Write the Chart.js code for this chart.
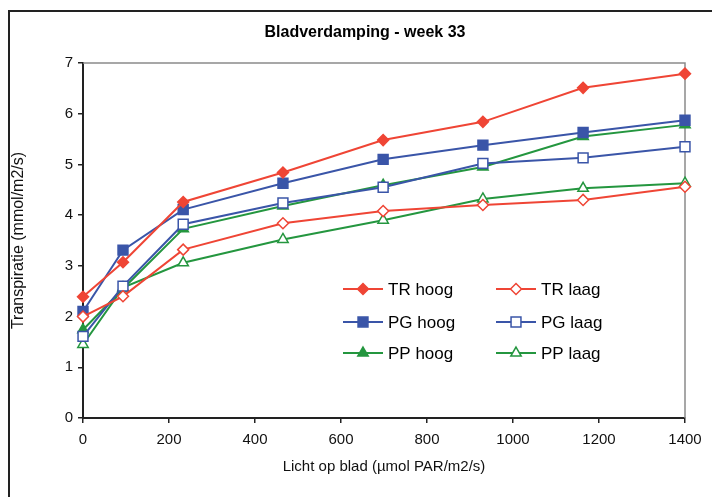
<!DOCTYPE html>
<html>
<head>
<meta charset="utf-8">
<script src="https://cdn.jsdelivr.net/npm/chart.js@4"></script>
<style>
  html, body { margin: 0; padding: 0; background: #fff; }
  #wrap { width: 712px; height: 497px; }
</style>
</head>
<body>
<div id="wrap"><canvas id="transpChart" width="712" height="497"></canvas></div>
<script>
const chartTitle = "Bladverdamping - week 33";
const lightLevels = [0, 93, 233, 465, 698, 930, 1163, 1400];
const trHoog = [2.39, 3.07, 4.26, 4.84, 5.48, 5.84, 6.51, 6.79];
const trLaag = [2.00, 2.40, 3.32, 3.84, 4.08, 4.20, 4.30, 4.56];
const pgHoog = [2.10, 3.31, 4.11, 4.63, 5.10, 5.38, 5.63, 5.87];
const pgLaag = [1.61, 2.60, 3.82, 4.24, 4.55, 5.02, 5.13, 5.35];
const ppHoog = [1.74, 2.55, 3.73, 4.18, 4.59, 4.95, 5.55, 5.78];
const ppLaag = [1.45, 2.57, 3.06, 3.52, 3.90, 4.32, 4.53, 4.63];

const RED = "#ef4535";
const BLUE = "#3a55a8";
const GREEN = "#24963f";
const FONT = "'Liberation Sans', Arial, sans-serif";

function toPoints(values) {
    return values.map((v, i) => ({ x: lightLevels[i], y: v }));
}

function series(label, values, color, style, filled, radius) {
    return {
        label: label,
        data: toPoints(values),
        borderColor: color,
        backgroundColor: color,
        borderWidth: 2,
        pointStyle: style,
        pointRadius: radius,
        pointBorderColor: color,
        pointBackgroundColor: filled ? color : "#ffffff",
        pointBorderWidth: 1.5,
        tension: 0,
        clip: false,
    };
}

const datasets = [
    series("TR hoog", trHoog, RED, "rectRot", true, 5.5),
    series("TR laag", trLaag, RED, "rectRot", false, 5.5),
    series("PG hoog", pgHoog, BLUE, "rect", true, 7),
    series("PG laag", pgLaag, BLUE, "rect", false, 7),
    series("PP hoog", ppHoog, GREEN, "triangle", true, 6),
    series("PP laag", ppLaag, GREEN, "triangle", false, 6),
];

// frame, gray top/right border of the plot, title text
const framePlugin = {
    id: "frame",
    beforeDraw(chart) {
        const ctx = chart.ctx;
        ctx.save();
        ctx.fillStyle = "#fff";
        ctx.fillRect(0, 0, chart.width, chart.height);
        ctx.strokeStyle = "#222";
        ctx.lineWidth = 2;
        ctx.beginPath();
        ctx.moveTo(9, chart.height);
        ctx.lineTo(9, 11);
        ctx.lineTo(chart.width, 11);
        ctx.stroke();
        ctx.fillStyle = "#000";
        ctx.font = "bold 16px " + FONT;
        ctx.textAlign = "center";
        ctx.textBaseline = "middle";
        ctx.fillText(chartTitle, 365, 33);
        ctx.restore();
    },
    beforeDatasetsDraw(chart) {
        const { ctx, chartArea } = chart;
        ctx.save();
        ctx.strokeStyle = "#8a8a8a";
        ctx.lineWidth = 1.5;
        ctx.beginPath();
        ctx.moveTo(chartArea.left, chartArea.top);
        ctx.lineTo(chartArea.right, chartArea.top);
        ctx.lineTo(chartArea.right, chartArea.bottom);
        ctx.stroke();
        ctx.restore();
    },
};

// legend drawn inside the plot, two columns
const legendPlugin = {
    id: "insideLegend",
    afterDatasetsDraw(chart) {
        const ctx = chart.ctx;
        const cols = [343, 496];
        const rows = [289, 322, 353];
        ctx.save();
        chart.data.datasets.forEach((ds, i) => {
            const x = cols[i % 2];
            const y = rows[Math.floor(i / 2)];
            ctx.strokeStyle = ds.borderColor;
            ctx.lineWidth = 2;
            ctx.beginPath();
            ctx.moveTo(x, y);
            ctx.lineTo(x + 40, y);
            ctx.stroke();
            ctx.fillStyle = ds.pointBackgroundColor;
            ctx.strokeStyle = ds.pointBorderColor;
            ctx.lineWidth = ds.pointBorderWidth;
            Chart.helpers.drawPoint(ctx, {
                pointStyle: ds.pointStyle,
                radius: ds.pointRadius,
                rotation: 0,
                borderWidth: ds.pointBorderWidth,
            }, x + 20, y);
            ctx.fillStyle = "#000";
            ctx.font = "17px " + FONT;
            ctx.textAlign = "left";
            ctx.textBaseline = "middle";
            ctx.fillText(ds.label, x + 45, y + 1);
        });
        ctx.restore();
    },
};

const ctx = document.getElementById("transpChart").getContext("2d");
new Chart(ctx, {
    type: "line",
    data: { datasets: datasets },
    plugins: [framePlugin, legendPlugin],
    options: {
        responsive: false,
        animation: false,
        devicePixelRatio: 1,
        layout: { padding: { left: 0, right: 27, top: 63, bottom: 0 } },
        plugins: {
            legend: { display: false },
            title: { display: false },
            tooltip: { enabled: false },
        },
        scales: {
            x: {
                type: "linear",
                min: 0,
                max: 1400,
                afterFit: (scale) => { scale.height = 79; },
                ticks: {
                    stepSize: 200,
                    color: "#111",
                    padding: 8,
                    maxRotation: 0,
                    callback: (value) => String(value),
                    font: { family: FONT, size: 15 },
                },
                grid: {
                    drawOnChartArea: false,
                    drawTicks: true,
                    tickLength: 5,
                    color: "#222",
                    lineWidth: 1.5,
                },
                border: { color: "#222", width: 2 },
                title: {
                    display: true,
                    text: "Licht op blad (µmol PAR/m2/s)",
                    color: "#111",
                    font: { family: FONT, size: 15 },
                    padding: { top: 21, bottom: 21 },
                },
            },
            y: {
                min: 0,
                max: 7,
                afterFit: (scale) => { scale.width = 83; },
                ticks: {
                    stepSize: 1,
                    color: "#111",
                    padding: 5,
                    font: { family: FONT, size: 15 },
                },
                grid: {
                    drawOnChartArea: false,
                    drawTicks: true,
                    tickLength: 5,
                    color: "#222",
                    lineWidth: 1.5,
                },
                border: { color: "#222", width: 2 },
                title: {
                    display: true,
                    text: "Transpiratie (mmol/m2/s)",
                    color: "#111",
                    font: { family: FONT, size: 16 },
                    padding: { top: 9, bottom: 9 },
                },
            },
        },
    },
});
</script>
</body>
</html>
